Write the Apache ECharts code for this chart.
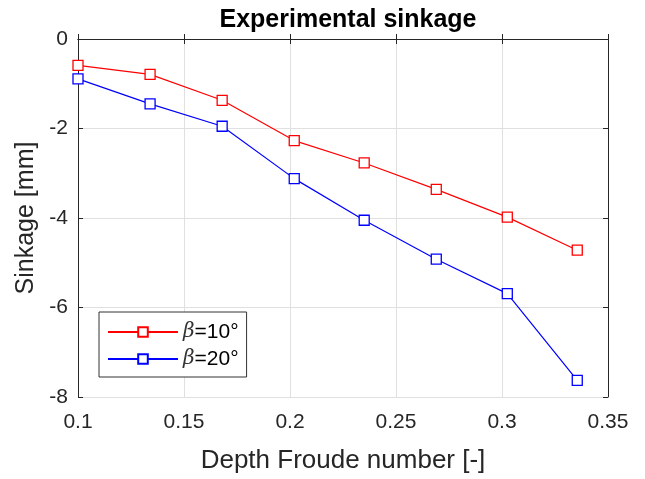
<!DOCTYPE html>
<html><head><meta charset="utf-8">
<script src="https://cdn.jsdelivr.net/npm/echarts@6/dist/echarts.min.js"></script>
<style>html,body{margin:0;padding:0;background:#fff}#c{width:645px;height:479px}</style>
</head><body><div id="c"></div>
<script>
const froude = [0.1, 0.134, 0.168, 0.202, 0.235, 0.269, 0.3025, 0.3355];
const sink10 = [-0.59, -0.79, -1.37, -2.27, -2.77, -3.36, -3.98, -4.72];
const sink20 = [-0.89, -1.45, -1.95, -3.12, -4.05, -4.92, -5.69, -7.63];
const xTicks = [0.1, 0.15, 0.2, 0.25, 0.3, 0.35];
const yTicks = [0, -2, -4, -6, -8];
const seriesNames = ['β=10°', 'β=20°'];

const font = 'Liberation Sans, Arial, sans-serif';
const axisCol = '#262626';
const chart = echarts.init(document.getElementById('c'));
const pair = (xs, ys) => xs.map((x, i) => [x, ys[i]]);
const baseX = {
  type: 'value', min: 0.1, max: 0.35, interval: 0.05,
  axisLine: {show: true, lineStyle: {color: axisCol, width: 1}},
  axisTick: {show: true, inside: true, length: 5, lineStyle: {color: axisCol}},
  splitLine: {show: false}
};
const baseY = {
  type: 'value', min: -8, max: 0, interval: 2,
  axisLine: {show: true, lineStyle: {color: axisCol, width: 1}},
  axisTick: {show: true, inside: true, length: 5, lineStyle: {color: axisCol}},
  splitLine: {show: false}
};
chart.setOption({
  animation: false,
  backgroundColor: '#fff',
  title: {
    text: 'Experimental sinkage', left: 343, top: 3, textAlign: 'center',
    textStyle: {fontFamily: font, fontWeight: 'bold', fontSize: 25, color: '#000'}
  },
  grid: {left: 78, right: 37, top: 39, bottom: 81, containLabel: false},
  legend: {
    left: 99, top: 312, orient: 'vertical',
    padding: [8, 8, 6, 8],
    itemGap: 3, itemWidth: 70, itemHeight: 12,
    backgroundColor: '#fff', borderColor: '#333', borderWidth: 1,
    data: seriesNames,
    formatter: function (n) { return '{i|β}' + n.slice(1); },
    textStyle: {
      fontFamily: font, fontSize: 21, color: '#000', lineHeight: 24,
      rich: {i: {fontFamily: 'DejaVu Serif', fontStyle: 'italic', fontSize: 20, color: '#333', lineHeight: 24}}
    }
  },
  xAxis: [
    Object.assign({}, baseX, {
      position: 'bottom',
      name: 'Depth Froude number [-]', nameLocation: 'middle', nameGap: 51,
      nameTextStyle: {fontFamily: font, fontSize: 26, color: '#262626'},
      axisLabel: {
        fontFamily: font, fontSize: 21, color: '#262626', margin: 15,
        formatter: v => { const t = xTicks.find(k => Math.abs(k - v) < 1e-9); return t === undefined ? '' : String(t); }
      },
      splitLine: {show: true, lineStyle: {color: '#e0e0e0', width: 1}}
    }),
    Object.assign({}, baseX, {position: 'top', axisLabel: {show: false}})
  ],
  yAxis: [
    Object.assign({}, baseY, {
      position: 'left',
      name: 'Sinkage [mm]', nameLocation: 'middle', nameGap: 37,
      nameTextStyle: {fontFamily: font, fontSize: 25, color: '#262626'},
      axisLabel: {
        fontFamily: font, fontSize: 21, color: '#262626', margin: 10,
        formatter: v => { const t = yTicks.find(k => Math.abs(k - v) < 1e-9); return t === undefined ? '' : String(t); }
      },
      splitLine: {show: true, lineStyle: {color: '#e0e0e0', width: 1}}
    }),
    Object.assign({}, baseY, {position: 'right', axisLabel: {show: false}})
  ],
  series: [
    {
      name: seriesNames[0], type: 'line', data: pair(froude, sink10),
      symbol: 'rect', symbolSize: 10,
      lineStyle: {color: '#ff0000', width: 1.2},
      itemStyle: {color: '#fff', borderColor: '#ff0000', borderWidth: 1.3},
      color: '#ff0000', z: 3
    },
    {
      name: seriesNames[1], type: 'line', data: pair(froude, sink20),
      symbol: 'rect', symbolSize: 10,
      lineStyle: {color: '#0000ff', width: 1.2},
      itemStyle: {color: '#fff', borderColor: '#0000ff', borderWidth: 1.3},
      color: '#0000ff', z: 3
    }
  ]
});
</script></body></html>
